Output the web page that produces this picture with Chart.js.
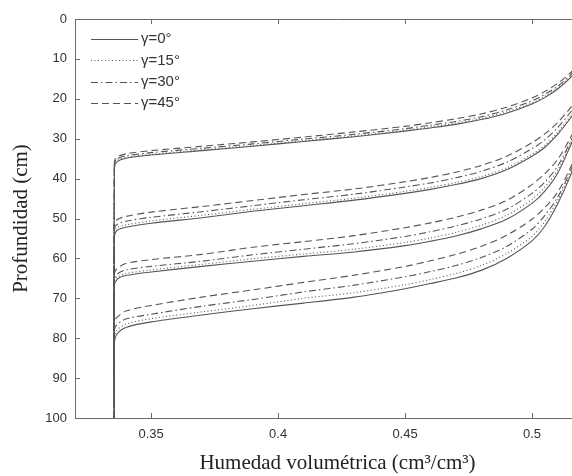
<!DOCTYPE html>
<html>
<head>
<meta charset="utf-8">
<script src="https://cdn.jsdelivr.net/npm/chart.js@4.4.0/dist/chart.umd.min.js"></script>
<style>
html, body { margin: 0; padding: 0; background: #fff; }
.wrap { width: 572px; height: 476px; overflow: hidden; }
</style>
</head>
<body>
<div class="wrap"><canvas id="profileChart" width="600" height="476"></canvas></div>
<script>
// Volumetric moisture (x) shared by every profile
const thetaValues = [0.3355, 0.3355, 0.3365, 0.34, 0.35, 0.37, 0.39, 0.41, 0.43, 0.45, 0.46, 0.47, 0.48, 0.49, 0.5, 0.505, 0.51, 0.515, 0.52];

// Depth (cm) per profile, four profiles (times) per slope angle
const depthGamma0 = [
    [100, 37.2, 35.8, 34.9, 34.1, 33.0, 31.9, 30.7, 29.5, 28.1, 27.3, 26.4, 25.2, 23.6, 21.3, 19.7, 17.6, 14.8, 11.2],
    [100, 54.5, 53.0, 52.2, 51.2, 49.8, 48.2, 46.8, 45.4, 43.7, 42.7, 41.5, 40.0, 37.8, 34.4, 32.2, 29.0, 25.0, 20.5],
    [100, 67.0, 65.3, 64.3, 63.4, 62.0, 60.7, 59.5, 58.4, 56.8, 55.7, 54.4, 52.6, 50.2, 46.2, 43.2, 38.8, 32.0, 24.5],
    [100, 81.5, 79.0, 77.3, 75.9, 74.2, 72.6, 71.2, 69.7, 67.6, 66.3, 64.9, 63.0, 60.0, 55.6, 52.0, 46.5, 39.5, 31.0]
];
const depthGamma15 = [
    [100, 36.8, 35.5, 34.7, 33.9, 32.8, 31.7, 30.5, 29.3, 27.9, 27.0, 26.1, 24.9, 23.3, 21.0, 19.4, 17.3, 14.6, 11.0],
    [100, 53.6, 52.3, 51.6, 50.6, 49.2, 47.7, 46.3, 44.9, 43.2, 42.2, 41.0, 39.5, 37.3, 33.9, 31.7, 28.5, 24.5, 20.0],
    [100, 66.3, 64.8, 63.8, 62.9, 61.5, 60.1, 58.9, 57.7, 56.0, 54.9, 53.5, 51.7, 49.2, 45.2, 42.2, 38.0, 31.5, 24.2],
    [100, 80.0, 78.0, 76.5, 75.1, 73.4, 71.8, 70.0, 68.6, 66.6, 65.3, 63.8, 61.8, 58.8, 54.5, 50.8, 45.6, 39.0, 30.5]
];
const depthGamma30 = [
    [100, 36.4, 35.1, 34.3, 33.5, 32.4, 31.3, 30.1, 28.9, 27.5, 26.6, 25.7, 24.5, 22.8, 20.5, 18.9, 16.9, 14.2, 10.7],
    [100, 52.6, 51.5, 50.7, 49.7, 48.3, 46.8, 45.3, 43.9, 42.1, 41.1, 39.8, 38.2, 35.9, 32.5, 30.3, 27.3, 23.5, 19.0],
    [100, 65.3, 64.0, 62.9, 62.0, 60.7, 59.1, 57.7, 56.3, 54.5, 53.3, 51.9, 50.1, 47.7, 43.7, 40.9, 37.0, 31.0, 24.0],
    [100, 78.0, 76.6, 75.2, 74.0, 72.0, 70.3, 68.4, 66.7, 64.6, 63.3, 61.8, 59.8, 57.0, 52.7, 49.3, 44.8, 38.3, 30.0]
];
const depthGamma45 = [
    [100, 35.8, 34.6, 33.8, 33.0, 31.9, 30.8, 29.6, 28.3, 26.9, 26.0, 25.0, 23.8, 22.1, 19.8, 18.2, 16.2, 13.6, 10.2],
    [100, 51.5, 50.3, 49.5, 48.4, 47.0, 45.5, 44.0, 42.6, 40.8, 39.7, 38.4, 36.7, 34.4, 31.0, 28.8, 26.0, 22.4, 18.0],
    [100, 63.8, 62.6, 61.3, 60.3, 59.0, 57.2, 55.8, 54.3, 52.3, 51.1, 49.7, 47.9, 45.5, 41.5, 38.8, 35.3, 30.0, 23.5],
    [100, 76.0, 74.8, 73.2, 71.8, 69.7, 67.9, 66.0, 64.2, 62.0, 60.6, 59.0, 57.0, 54.2, 50.2, 47.3, 43.5, 37.5, 29.5]
];

const gammaLabels = ['γ=0°', 'γ=15°', 'γ=30°', 'γ=45°'];
const xTicks = [0.35, 0.4, 0.45, 0.5];
const yTicks = [0, 10, 20, 30, 40, 50, 60, 70, 80, 90, 100];

// === Styles ===
const lineColor = '#555555';
const dashStyles = [[], [1, 2.5], [7, 3, 1.5, 3], [7, 4]];
const depthSets = [depthGamma0, depthGamma15, depthGamma30, depthGamma45];

const datasets = [];
depthSets.forEach((profiles, g) => {
    profiles.forEach((depths, i) => {
        datasets.push({
            label: gammaLabels[g],
            legendEntry: i === 0,
            data: depths.map((d, k) => ({ x: thetaValues[k], y: d })),
            borderColor: lineColor,
            borderWidth: 1.1,
            borderDash: dashStyles[g],
            pointRadius: 0,
            tension: 0.3,
            fill: false
        });
    });
});

// inward tick marks + top frame line
const frameTicks = {
    id: 'frameTicks',
    afterDatasetsDraw(chart) {
        const { ctx, chartArea, scales } = chart;
        ctx.save();
        ctx.strokeStyle = '#6a6a6a';
        ctx.lineWidth = 1;
        ctx.setLineDash([]);
        ctx.beginPath();
        ctx.moveTo(chartArea.left, chartArea.top + 0.5);
        ctx.lineTo(chartArea.right, chartArea.top + 0.5);
        scales.x.ticks.forEach(t => {
            const px = Math.round(scales.x.getPixelForValue(t.value)) + 0.5;
            ctx.moveTo(px, chartArea.bottom);
            ctx.lineTo(px, chartArea.bottom - 5);
            ctx.moveTo(px, chartArea.top);
            ctx.lineTo(px, chartArea.top + 5);
        });
        scales.y.ticks.forEach(t => {
            const py = Math.round(scales.y.getPixelForValue(t.value)) + 0.5;
            ctx.moveTo(chartArea.left, py);
            ctx.lineTo(chartArea.left + 5, py);
        });
        ctx.stroke();
        ctx.restore();
    }
};

// legend in the top left corner of the plot
const cornerLegend = {
    id: 'cornerLegend',
    afterDatasetsDraw(chart) {
        const { ctx, chartArea } = chart;
        const items = chart.data.datasets.filter(ds => ds.legendEntry);
        ctx.save();
        ctx.font = '15px "Liberation Sans", Arial, sans-serif';
        ctx.textBaseline = 'middle';
        ctx.fillStyle = '#333333';
        items.forEach((ds, i) => {
            const y = chartArea.top + 20 + i * 21.4;
            const x0 = chartArea.left + 16;
            ctx.strokeStyle = ds.borderColor;
            ctx.lineWidth = 1.1;
            ctx.setLineDash(ds.borderDash);
            ctx.beginPath();
            ctx.moveTo(x0, Math.round(y) + 0.5);
            ctx.lineTo(x0 + 47, Math.round(y) + 0.5);
            ctx.stroke();
            ctx.fillText(ds.label, x0 + 50, y);
        });
        ctx.restore();
    }
};

const ctx = document.getElementById('profileChart').getContext('2d');
new Chart(ctx, {
    type: 'line',
    data: { datasets: datasets },
    options: {
        responsive: false,
        animation: false,
        devicePixelRatio: 1,
        layout: { padding: { top: 19, left: 0, right: 0, bottom: 0 } },
        plugins: {
            legend: { display: false },
            tooltip: { enabled: false }
        },
        scales: {
            x: {
                type: 'linear',
                min: 0.32,
                max: 0.5268,
                afterFit: (scale) => { scale.height = 58; },
                afterBuildTicks: (axis) => { axis.ticks = xTicks.map(v => ({ value: v })); },
                grid: { display: false },
                border: { display: true, color: '#6a6a6a', width: 1 },
                ticks: {
                    autoSkip: false,
                    maxRotation: 0,
                    padding: 1,
                    color: '#333333',
                    font: { family: '"Liberation Sans", Arial, sans-serif', size: 13 },
                    callback: (value) => String(value)
                },
                title: {
                    display: true,
                    text: 'Humedad volumétrica (cm³/cm³)',
                    color: '#222222',
                    font: { family: '"Liberation Serif", "Times New Roman", serif', size: 21 },
                    padding: { top: 0, bottom: 0 }
                }
            },
            y: {
                type: 'linear',
                reverse: true,
                min: 0,
                max: 100,
                afterFit: (scale) => { scale.width = 75; },
                afterBuildTicks: (axis) => { axis.ticks = yTicks.map(v => ({ value: v })); },
                grid: { display: false },
                border: { display: true, color: '#6a6a6a', width: 1 },
                ticks: {
                    padding: 0,
                    color: '#333333',
                    font: { family: '"Liberation Sans", Arial, sans-serif', size: 13 }
                },
                title: {
                    display: true,
                    text: 'Profundidad (cm)',
                    color: '#222222',
                    font: { family: '"Liberation Serif", "Times New Roman", serif', size: 21 },
                    padding: { top: 9, bottom: 0 }
                }
            }
        }
    },
    plugins: [frameTicks, cornerLegend]
});
</script>
</body>
</html>
